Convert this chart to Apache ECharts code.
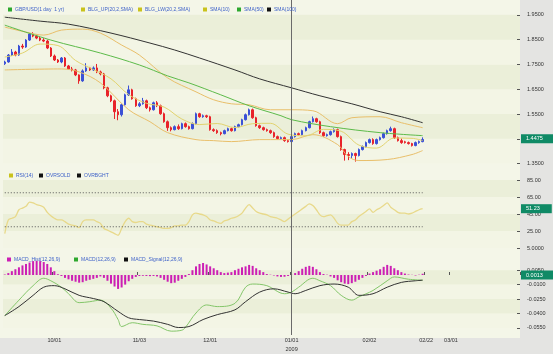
<!DOCTYPE html>
<html>
<head>
<meta charset="utf-8">
<script src="https://cdn.jsdelivr.net/npm/echarts@6/dist/echarts.min.js"></script>
<style>
  html, body { margin: 0; padding: 0; background: #f4f6e8; }
  #chart { width: 553px; height: 354px; }
</style>
</head>
<body>
<div id="chart"></div>
<script>
// x axis: one slot per trading day, ticks only at a few dates
var slotCount = 146
var categories = []
for (var s = 0; s < slotCount; s++) categories.push('d' + s)
var tickIndex = [14, 38, 58, 81, 103, 119, 126]
var tickText = ['10/01', '11/03', '12/01', '01/01\n2009', '02/02', '02/22', '03/01']
var yearLineIndex = 81

// GBP/USD daily candles
var candleOpen = [1.7530,1.7600,1.7881,1.8002,1.7881,1.8243,1.8202,1.8484,1.8725,1.8644,
  1.8564,1.8484,1.8443,1.8162,1.7841,1.7680,1.7600,1.7761,1.7439,1.7319,
  1.7279,1.7078,1.6837,1.7239,1.7359,1.7279,1.7359,1.7198,1.7118,1.6556,
  1.6235,1.6034,1.5592,1.5472,1.5873,1.6275,1.6476,1.6114,1.5833,1.5913,
  1.6034,1.5753,1.5672,1.5953,1.5833,1.5512,1.5190,1.4949,1.4869,1.4990,
  1.4909,1.5110,1.4990,1.4909,1.5110,1.5512,1.5391,1.5431,1.5391,1.4869,
  1.4829,1.4749,1.4708,1.4829,1.4909,1.4829,1.4990,1.5070,1.5271,1.5472,
  1.5672,1.5351,1.5030,1.4949,1.4869,1.4829,1.4749,1.4588,1.4508,1.4548,
  1.4427,1.4387,1.4588,1.4708,1.4668,1.4829,1.4949,1.5190,1.5311,1.5190,
  1.4749,1.4628,1.4668,1.4789,1.4869,1.4588,1.4066,1.3865,1.3825,1.3905,
  1.3825,1.4066,1.4186,1.4347,1.4468,1.4307,1.4468,1.4548,1.4708,1.4829,
  1.4909,1.4548,1.4427,1.4380,1.4347,1.4307,1.4227,1.4347,1.4387]
var candleClose = [1.7600,1.7881,1.8002,1.7881,1.8243,1.8202,1.8484,1.8725,1.8644,1.8564,
  1.8484,1.8443,1.8162,1.7841,1.7680,1.7600,1.7761,1.7439,1.7319,1.7279,
  1.7078,1.6837,1.7239,1.7359,1.7279,1.7359,1.7198,1.7118,1.6556,1.6235,
  1.6034,1.5592,1.5472,1.5873,1.6275,1.6476,1.6114,1.5833,1.5913,1.6034,
  1.5753,1.5672,1.5953,1.5833,1.5512,1.5190,1.4949,1.4869,1.4990,1.4909,
  1.5110,1.4990,1.4909,1.5110,1.5512,1.5391,1.5431,1.5391,1.4869,1.4829,
  1.4749,1.4708,1.4829,1.4909,1.4829,1.4990,1.5070,1.5271,1.5472,1.5672,
  1.5351,1.5030,1.4949,1.4869,1.4829,1.4749,1.4588,1.4508,1.4548,1.4427,
  1.4387,1.4588,1.4708,1.4668,1.4829,1.4949,1.5190,1.5311,1.5190,1.4749,
  1.4628,1.4668,1.4789,1.4869,1.4588,1.4066,1.3865,1.3825,1.3905,1.3825,
  1.4066,1.4186,1.4347,1.4468,1.4307,1.4468,1.4548,1.4708,1.4829,1.4909,
  1.4548,1.4427,1.4347,1.4347,1.4307,1.4227,1.4347,1.4387,1.4475]
var candleLow = [1.7480,1.7570,1.7840,1.7830,1.7850,1.8130,1.8170,1.8450,1.8600,1.8520,
  1.8440,1.8400,1.8120,1.7800,1.7640,1.7560,1.7550,1.7400,1.7280,1.7220,
  1.7030,1.6720,1.6800,1.7200,1.7240,1.7240,1.7150,1.7060,1.6500,1.6180,
  1.5980,1.5300,1.5250,1.5400,1.5840,1.6230,1.6080,1.5790,1.5780,1.5880,
  1.5700,1.5600,1.5640,1.5780,1.5470,1.5150,1.4820,1.4800,1.4840,1.4860,
  1.4880,1.4950,1.4870,1.4880,1.5080,1.5350,1.5350,1.5340,1.4830,1.4780,
  1.4700,1.4640,1.4680,1.4800,1.4790,1.4800,1.4960,1.5040,1.5240,1.5440,
  1.5310,1.4990,1.4900,1.4830,1.4790,1.4700,1.4540,1.4460,1.4470,1.4380,
  1.4350,1.4360,1.4550,1.4620,1.4640,1.4800,1.4920,1.5160,1.5150,1.4700,
  1.4580,1.4590,1.4630,1.4750,1.4550,1.4020,1.3620,1.3640,1.3700,1.3580,
  1.3790,1.4030,1.4150,1.4310,1.4260,1.4270,1.4430,1.4510,1.4670,1.4790,
  1.4500,1.4390,1.4300,1.4310,1.4270,1.4190,1.4200,1.4300,1.4360]
var candleHigh = [1.7650,1.7920,1.8120,1.8050,1.8290,1.8330,1.8520,1.8770,1.8800,1.8700,
  1.8620,1.8560,1.8500,1.8200,1.7900,1.7720,1.7800,1.7800,1.7480,1.7400,
  1.7320,1.7100,1.7300,1.7550,1.7400,1.7420,1.7520,1.7250,1.7160,1.6600,
  1.6280,1.6080,1.5700,1.5920,1.6320,1.6650,1.6520,1.6160,1.5980,1.6150,
  1.6080,1.5800,1.6000,1.6020,1.5880,1.5560,1.5240,1.5000,1.5040,1.5080,
  1.5150,1.5160,1.5030,1.5160,1.5560,1.5550,1.5480,1.5470,1.5430,1.4920,
  1.4880,1.4790,1.4870,1.4950,1.4950,1.5030,1.5110,1.5310,1.5520,1.5720,
  1.5720,1.5390,1.5070,1.4990,1.4910,1.4870,1.4790,1.4630,1.4590,1.4590,
  1.4470,1.4630,1.4750,1.4750,1.4870,1.4990,1.5230,1.5400,1.5350,1.5230,
  1.4790,1.4710,1.4830,1.4920,1.4910,1.4630,1.4100,1.3960,1.3950,1.3940,
  1.4110,1.4230,1.4390,1.4510,1.4520,1.4510,1.4590,1.4750,1.4870,1.4990,
  1.4950,1.4590,1.4510,1.4420,1.4390,1.4340,1.4390,1.4430,1.4560]

// overlays: [day index, value]
var bollUp = [[0,1.9006],[6,1.8805],[11,1.8684],[16,1.8885],[22,1.8925],[27,1.8765],[33,1.8283],
  [38,1.7881],[46,1.6957],[54,1.6395],[59,1.6074],[64,1.5913],[69,1.5873],[75,1.5672],[81,1.5672],
  [87,1.5632],[94,1.5110],[98,1.5351],[106,1.5391],[112,1.5150],[118,1.4949]]
var bollLow = [[0,1.7279],[16,1.7319],[21,1.7198],[27,1.6757],[35,1.5672],[41,1.5190],[46,1.4749],
  [54,1.4468],[59,1.4427],[64,1.4387],[72,1.4468],[78,1.4468],[81,1.4468],[87,1.4668],[94,1.4267],
  [97,1.3784],[100,1.3624],[108,1.3664],[115,1.3865],[118,1.4026]]
var sma10 = [[0,1.7801],[5,1.7961],[10,1.8323],[15,1.8263],[20,1.7660],[25,1.7295],[30,1.6921],
  [35,1.6283],[40,1.5933],[45,1.5781],[50,1.5299],[55,1.5074],[60,1.5118],[65,1.4953],[70,1.5110],
  [75,1.5126],[80,1.4688],[85,1.4620],[90,1.4881],[95,1.4805],[100,1.4247],[105,1.4126],[110,1.4532],
  [115,1.4520],[118,1.4431]]
var sma50 = [[0,1.9086],[13,1.8484],[27,1.7961],[38,1.7480],[46,1.7038],[52,1.6757],[61,1.6275],
  [69,1.5833],[78,1.5431],[81,1.5271],[92,1.4990],[106,1.4749],[118,1.4628]]
var sma100 = [[0,1.9407],[10,1.9247],[18,1.9126],[30,1.8765],[41,1.8363],[48,1.8082],[55,1.7761],
  [65,1.7279],[72,1.6917],[81,1.6556],[89,1.6235],[98,1.5913],[106,1.5592],[112,1.5391],[118,1.5150]]

// RSI(14)
var rsi = [22,38,40,42,50,52,54,59,58,56,
  55,53,47,43,40,38,38,36,33,32,
  31,29,36,38,38,38,36,34,28,26,
  24,22,20,28,36,40,36,35,36,36,
  33,32,31,30,29,28,28,29,31,31,
  32,32,36,44,46,45,44,42,38,37,
  35,34,37,38,40,41,43,46,52,56,
  52,48,46,45,44,42,41,40,38,36,
  39,42,45,48,51,54,57,55,50,44,
  42,43,44,40,34,32,32,32,36,38,
  42,45,48,51,47,50,52,55,58,53,
  50,47,46,46,45,46,48,50,51.23]
var overSold = 30
var overBought = 70

// MACD(12,26,9)
var macdHist = [0.0005,0.002,0.004,0.006,0.008,0.010,0.0115,0.013,0.0145,0.0148,
  0.0145,0.0135,0.0115,0.008,0.004,0.0008,-0.001,-0.003,-0.0045,-0.006,
  -0.007,-0.008,-0.0075,-0.006,-0.005,-0.004,-0.003,-0.0015,-0.003,-0.006,
  -0.009,-0.012,-0.0145,-0.013,-0.010,-0.0065,-0.004,-0.002,-0.001,-0.0008,
  -0.001,-0.0012,-0.001,-0.0015,-0.003,-0.005,-0.007,-0.0085,-0.008,-0.006,
  -0.004,-0.002,0.001,0.005,0.009,0.0115,0.0125,0.011,0.009,0.007,
  0.005,0.003,0.002,0.0025,0.003,0.005,0.0065,0.008,0.009,0.0105,
  0.0095,0.007,0.005,0.003,0.001,0.0003,-0.0005,-0.0015,-0.002,-0.0018,
  -0.001,0.0002,0.002,0.004,0.0065,0.0085,0.0095,0.0085,0.006,0.003,
  0.001,0.0003,-0.0015,-0.003,-0.0055,-0.0075,-0.009,-0.0095,-0.0085,-0.007,
  -0.005,-0.003,-0.001,0.0015,0.003,0.0045,0.006,0.0085,0.0105,0.0095,
  0.007,0.005,0.003,0.0015,0.0005,0.0002,-0.0005,0.0003,0.0013]
var macdLine = [[0,-0.0423],[4,-0.0262],[8,-0.0111],[11,-0.0034],[13,-0.006],[16,-0.0127],[18,-0.0195],
  [21,-0.0288],[24,-0.0278],[27,-0.0262],[30,-0.0346],[32,-0.0464],[33,-0.0537],[36,-0.0497],
  [39,-0.0514],[43,-0.053],[47,-0.0585],[50,-0.0575],[51,-0.0547],[54,-0.0396],[57,-0.0312],
  [60,-0.0329],[65,-0.0295],[68,-0.0127],[70,-0.0094],[74,-0.0111],[79,-0.0195],[81,-0.0178],
  [83,-0.0127],[87,-0.0034],[89,-0.006],[92,-0.0111],[95,-0.0212],[98,-0.0262],[100,-0.0228],
  [104,-0.0161],[108,-0.006],[110,-0.002],[114,-0.0044],[118,-0.0054]]
var macdSignal = [[0,-0.0423],[4,-0.0329],[8,-0.0212],[11,-0.0127],[14,-0.0111],[17,-0.0144],
  [21,-0.0212],[25,-0.0245],[28,-0.0278],[32,-0.0379],[35,-0.0446],[38,-0.0464],[42,-0.048],
  [46,-0.0514],[49,-0.0547],[52,-0.0537],[56,-0.0464],[60,-0.0413],[65,-0.0363],[68,-0.0278],
  [72,-0.0178],[76,-0.0144],[80,-0.0178],[82,-0.0195],[85,-0.0161],[89,-0.0111],[93,-0.0094],
  [97,-0.0127],[100,-0.0212],[104,-0.0195],[108,-0.0127],[112,-0.0077],[116,-0.006],[118,-0.0054]]

// axis label values
var priceTicks = [1.35, 1.45, 1.55, 1.65, 1.75, 1.85, 1.95]
var rsiTicks = [5, 25, 45, 65, 85]
var macdTicks = [-0.055, -0.04, -0.025, -0.01, 0.005]

var myChart = echarts.init(document.getElementById('chart'))

var font = 'Liberation Sans, Arial, sans-serif'
var legendBlue = '#3f62c9'
var stripes = ['#f3f5e5', '#ebefd9']
var upColor = '#3b50d6'
var downColor = '#e8232a'
var legendGreen = '#2ea82e'
var legendYellow = '#c9c21c'
var legendBlack = '#111'

function fmtNum (v) {
  return Math.abs(v) >= 10 ? v.toFixed(2) : v.toFixed(4)
}

function levelLine (level) {
  return candleClose.map(function () { return level })
}

// green value tag on the right axis
function badge (value, text) {
  return {
    yAxis: value,
    lineStyle: { color: 'rgba(0,0,0,0)', width: 1, type: 'solid' },
    label: {
      show: true,
      position: 'end',
      distance: 1,
      formatter: text,
      color: '#fff',
      backgroundColor: '#0f8a66',
      fontFamily: font,
      fontSize: 5.5,
      padding: [2, 12, 1, 5]
    }
  }
}

function yearLine () {
  return {
    xAxis: categories[yearLineIndex],
    lineStyle: { color: '#6a6a6a', width: 1, type: 'solid' },
    label: { show: false }
  }
}

function xAxisFor (grid, showLabels) {
  return {
    type: 'category',
    gridIndex: grid,
    data: categories,
    boundaryGap: true,
    axisLine: { show: false },
    axisTick: {
      show: showLabels,
      inside: true,
      length: 3,
      interval: function (idx) { return tickIndex.indexOf(idx) >= 0 },
      lineStyle: { color: '#555' }
    },
    axisLabel: {
      show: showLabels,
      interval: function (idx) { return tickIndex.indexOf(idx) >= 0 },
      formatter: function (val, idx) {
        var k = tickIndex.indexOf(idx)
        return k >= 0 ? tickText[k] : ''
      },
      margin: 1,
      fontFamily: font,
      fontSize: 5.5,
      lineHeight: 9,
      color: '#333'
    },
    splitLine: { show: false }
  }
}

function yAxisFor (grid, min, max, interval, ticks) {
  return {
    type: 'value',
    gridIndex: grid,
    position: 'right',
    min: min,
    max: max,
    interval: interval,
    axisLine: { show: false },
    axisTick: { show: true, inside: true, length: 3, customValues: ticks, lineStyle: { color: '#555' } },
    axisLabel: {
      customValues: ticks,
      formatter: fmtNum,
      margin: 7,
      fontFamily: font,
      fontSize: 5.5,
      color: '#333'
    },
    splitLine: { show: false },
    splitArea: { show: true, areaStyle: { color: stripes } }
  }
}

// one legend block per entry so each sits where the original puts it
function legendItem (top, left, name, color) {
  return {
    top: top,
    left: left,
    icon: 'rect',
    itemWidth: 4,
    itemHeight: 4,
    selectedMode: false,
    z: 10,
    textStyle: { fontFamily: font, fontSize: 5, color: legendBlue, padding: [0, 0, 0, -2] },
    data: [{ name: name, itemStyle: { color: color, borderColor: color, borderWidth: 0 } }]
  }
}

var lineBase = { type: 'line', symbol: 'none', smooth: 0.35, silent: true }

const option = {
  animation: false,
  backgroundColor: '#f4f6e8',
  graphic: [
    { type: 'rect', z: -1, shape: { x: 520, y: 0, width: 33, height: 354 }, style: { fill: '#e4e4e2' } },
    { type: 'rect', z: -1, shape: { x: 0, y: 338, width: 553, height: 16 }, style: { fill: '#e4e4e2' } }
  ],
  legend: [
    legendItem(2, 3, 'GBP/USD(1 day  1 yr)', legendGreen),
    legendItem(2, 76, 'BLG_UP(20,2,SMA)', legendYellow),
    legendItem(2, 133, 'BLG_LW(20,2,SMA)', legendYellow),
    legendItem(2, 198, 'SMA(10)', legendYellow),
    legendItem(2, 232, 'SMA(50)', legendGreen),
    legendItem(2, 262, 'SMA(100)', legendBlack),
    legendItem(168, 4, 'RSI(14)', legendYellow),
    legendItem(168, 34, 'OVRSOLD', legendBlack),
    legendItem(168, 72, 'OVRBGHT', legendBlack),
    legendItem(252, 2, 'MACD_Hist(12,26,9)', '#cc1fb4'),
    legendItem(252, 69, 'MACD(12,26,9)', legendGreen),
    legendItem(252, 119, 'MACD_Signal(12,26,9)', legendBlack)
  ],
  grid: [
    { left: 3, right: 33, top: 0, height: 176 },
    { left: 3, right: 33, top: 175.75, height: 80.75 },
    { left: 3, right: 33, top: 255.8, height: 81.9 }
  ],
  xAxis: [xAxisFor(0, false), xAxisFor(1, false), xAxisFor(2, true)],
  yAxis: [
    yAxisFor(0, 1.30, 2.01, 0.05, priceTicks),
    yAxisFor(1, -5, 90, 10, rsiTicks),
    yAxisFor(2, -0.0625, 0.02, 0.0075, macdTicks)
  ],
  series: [
    {
      name: 'GBP/USD(1 day  1 yr)',
      type: 'candlestick',
      xAxisIndex: 0,
      yAxisIndex: 0,
      barWidth: 2,
      silent: true,
      // series colour is only used by the legend square; each candle carries its own colour
      itemStyle: { color: legendGreen, color0: legendGreen, borderColor: legendGreen, borderColor0: legendGreen, borderWidth: 1 },
      data: candleOpen.map(function (o, i) {
        var c = candleClose[i] >= o ? upColor : downColor
        return {
          value: [o, candleClose[i], candleLow[i], candleHigh[i]],
          itemStyle: { color: c, color0: c, borderColor: c, borderColor0: c }
        }
      }),
      markLine: {
        symbol: 'none',
        silent: true,
        data: [yearLine(), badge(candleClose[candleClose.length - 1], '1.4475')]
      }
    },
    Object.assign({}, lineBase, { name: 'BLG_UP(20,2,SMA)', xAxisIndex: 0, yAxisIndex: 0, data: bollUp, lineStyle: { color: '#e9bf6a', width: 1 } }),
    Object.assign({}, lineBase, { name: 'BLG_LW(20,2,SMA)', xAxisIndex: 0, yAxisIndex: 0, data: bollLow, lineStyle: { color: '#e9bf6a', width: 1 } }),
    Object.assign({}, lineBase, { name: 'SMA(10)', xAxisIndex: 0, yAxisIndex: 0, data: sma10, lineStyle: { color: '#e2d36e', width: 1 } }),
    Object.assign({}, lineBase, { name: 'SMA(50)', xAxisIndex: 0, yAxisIndex: 0, data: sma50, lineStyle: { color: '#5dbb4a', width: 1 } }),
    Object.assign({}, lineBase, { name: 'SMA(100)', xAxisIndex: 0, yAxisIndex: 0, data: sma100, lineStyle: { color: '#333', width: 1 } }),
    {
      name: 'RSI(14)',
      type: 'line',
      xAxisIndex: 1,
      yAxisIndex: 1,
      symbol: 'none',
      smooth: 0.3,
      silent: true,
      data: rsi,
      lineStyle: { color: '#e8d98a', width: 1.3 },
      markLine: {
        symbol: 'none',
        silent: true,
        data: [yearLine(), badge(rsi[rsi.length - 1], '51.23')]
      }
    },
    { name: 'OVRSOLD', type: 'line', xAxisIndex: 1, yAxisIndex: 1, symbol: 'none', silent: true, data: levelLine(overSold), lineStyle: { color: '#555', width: 1, type: [1, 2] } },
    { name: 'OVRBGHT', type: 'line', xAxisIndex: 1, yAxisIndex: 1, symbol: 'none', silent: true, data: levelLine(overBought), lineStyle: { color: '#555', width: 1, type: [1, 2] } },
    {
      name: 'MACD_Hist(12,26,9)',
      type: 'bar',
      xAxisIndex: 2,
      yAxisIndex: 2,
      barWidth: 2,
      silent: true,
      itemStyle: { color: '#cc1fb4' },
      data: macdHist,
      markLine: {
        symbol: 'none',
        silent: true,
        data: [yearLine(), badge(macdHist[macdHist.length - 1], '0.0013')]
      }
    },
    Object.assign({}, lineBase, { name: 'MACD(12,26,9)', xAxisIndex: 2, yAxisIndex: 2, data: macdLine, lineStyle: { color: '#84c66a', width: 1 } }),
    Object.assign({}, lineBase, { name: 'MACD_Signal(12,26,9)', xAxisIndex: 2, yAxisIndex: 2, data: macdSignal, lineStyle: { color: '#333', width: 1 } })
  ]
}

myChart.setOption(option)
</script>
</body>
</html>
